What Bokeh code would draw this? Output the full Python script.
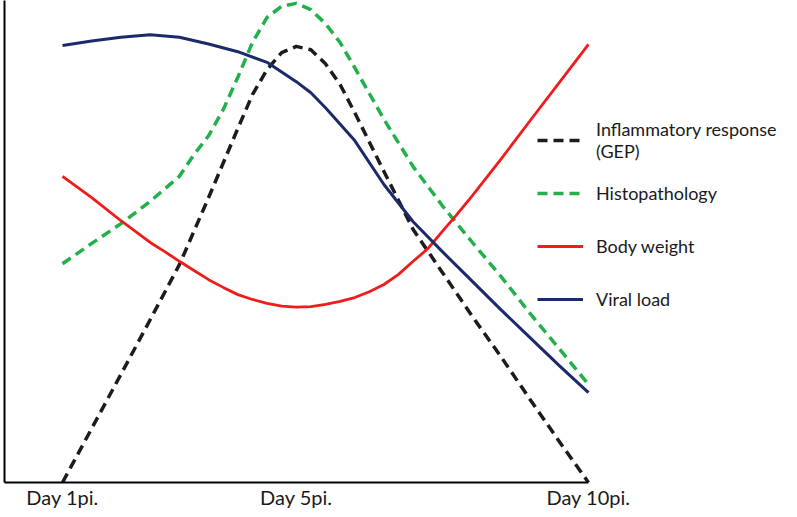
from bokeh.plotting import figure
from bokeh.models import Legend, LegendItem, FixedTicker, Range1d
from bokeh.embed import file_html
from bokeh.resources import INLINE

# ---- data (relative level, 0-100) ----
days_inflam = [1, 1.5, 2, 2.5, 3, 3.5, 4, 4.25, 4.5, 4.75, 5, 5.25, 5.5, 5.75, 6, 6.5,
               7, 7.5, 8, 8.5, 9, 9.5, 10]
inflammatory = [0, 11.2, 22.4, 33.7, 45.1, 59.0, 73.3, 80.3, 85.5, 89.0, 90.3, 89.6, 86.7,
                82.4, 76.6, 64.4, 52.4, 43.5, 34.6, 26.1, 17.2, 8.5, 0]

days_histo = [1, 1.5, 2, 2.5, 3, 3.25, 3.5, 3.75, 4, 4.25, 4.5, 4.75, 5, 5.25, 5.5, 5.75, 6,
              6.5, 7, 7.5, 8, 8.5, 9, 9.5, 10]
histopathology = [45.3, 49.5, 53.6, 58.2, 63.4, 67.9, 71.8, 77.2, 83.9, 91.1, 96.3, 98.6,
                  99.2, 97.9, 95.0, 91.1, 85.9, 75.2, 65.4, 57.3, 49.9, 42.7, 35.0, 27.7, 20.3]

days_weight = [1, 1.5, 2, 2.5, 2.75, 3, 3.25, 3.5, 3.75, 4, 4.25, 4.5, 4.75, 5, 5.25, 5.5,
               5.75, 6, 6.25, 6.5, 6.75, 7, 7.25, 7.5, 7.75, 8, 8.5, 9, 9.5, 10]
body_weight = [63.4, 59.0, 54.2, 49.7, 47.8, 45.8, 43.9, 42.0, 40.4, 38.9, 37.9, 37.1, 36.5,
               36.3, 36.4, 36.9, 37.5, 38.3, 39.5, 41.0, 43.1, 45.8, 48.4, 52.0, 55.5, 59.2,
               66.9, 74.9, 82.8, 90.7]

days_viral = [1, 1.5, 2, 2.5, 3, 3.5, 4, 4.5, 5, 5.25, 5.5, 6, 6.5, 7, 7.5, 8, 8.5, 9, 9.5, 10]
viral_load = [90.5, 91.4, 92.2, 92.7, 92.2, 90.8, 89.2, 87.0, 83.0, 80.7, 77.6, 70.8, 61.7,
              54.0, 47.8, 41.8, 35.8, 30.0, 24.2, 18.6]

tick_days = [1, 5, 10]
tick_labels = ["Day 1pi.", "Day 5pi.", "Day 10pi."]
series_names = ["Inflammatory response\n(GEP)", "Histopathology", "Body weight", "Viral load"]

FONT = "Lato"
X0, X1 = 0.0075, 13.303

p = figure(frame_width=777, frame_height=482,
           x_range=Range1d(X0, X1), y_range=Range1d(0, 99.8),
           output_backend="svg", toolbar_location=None,
           min_border_left=4, min_border_right=0, min_border_top=0, min_border_bottom=0)
p.grid.visible = False
p.outline_line_color = None
p.background_fill_color = "white"

r1 = p.line(days_inflam, inflammatory, line_color="#1c1c1c", line_width=3.5,
            line_dash="10 6", line_join="round")
r2 = p.line(days_histo, histopathology, line_color="#22b04a", line_width=3.5,
            line_dash="10 6", line_join="round")
r3 = p.line(days_weight, body_weight, line_color="#f01c1c", line_width=2.8, line_join="round")
r4 = p.line(days_viral, viral_load, line_color="#1b2a6b", line_width=3, line_join="round")

xa = p.xaxis[0]
xa.ticker = FixedTicker(ticks=tick_days)
xa.major_label_overrides = {d: l for d, l in zip(tick_days, tick_labels)}
xa.major_tick_line_color = None
xa.minor_tick_line_color = None
xa.major_tick_out = 0
xa.major_tick_in = 0
xa.axis_line_width = 2
xa.axis_line_color = "black"
xa.bounds = (X0, 10)
xa.major_label_text_font = FONT
xa.major_label_text_font_size = "20px"
xa.major_label_text_color = "#1a1a1a"
xa.major_label_standoff = 2

ya = p.yaxis[0]
ya.ticker = FixedTicker(ticks=[])
ya.major_tick_line_color = None
ya.minor_tick_line_color = None
ya.major_label_standoff = 0
ya.axis_line_width = 2
ya.axis_line_color = "black"

legend = Legend(
    items=[LegendItem(label=n, renderers=[r]) for n, r in zip(series_names, [r1, r2, r3, r4])],
    location=(533, 160), padding=0, margin=0, spacing=7,
    label_height=46, glyph_height=46, glyph_width=46, label_standoff=13,
    border_line_color=None, background_fill_alpha=0,
    label_text_font=FONT, label_text_font_size="18px", label_text_color="#1a1a1a",
    label_text_line_height=1.4,
)
p.add_layout(legend)

open("out.html", "w").write(file_html(p, INLINE))
